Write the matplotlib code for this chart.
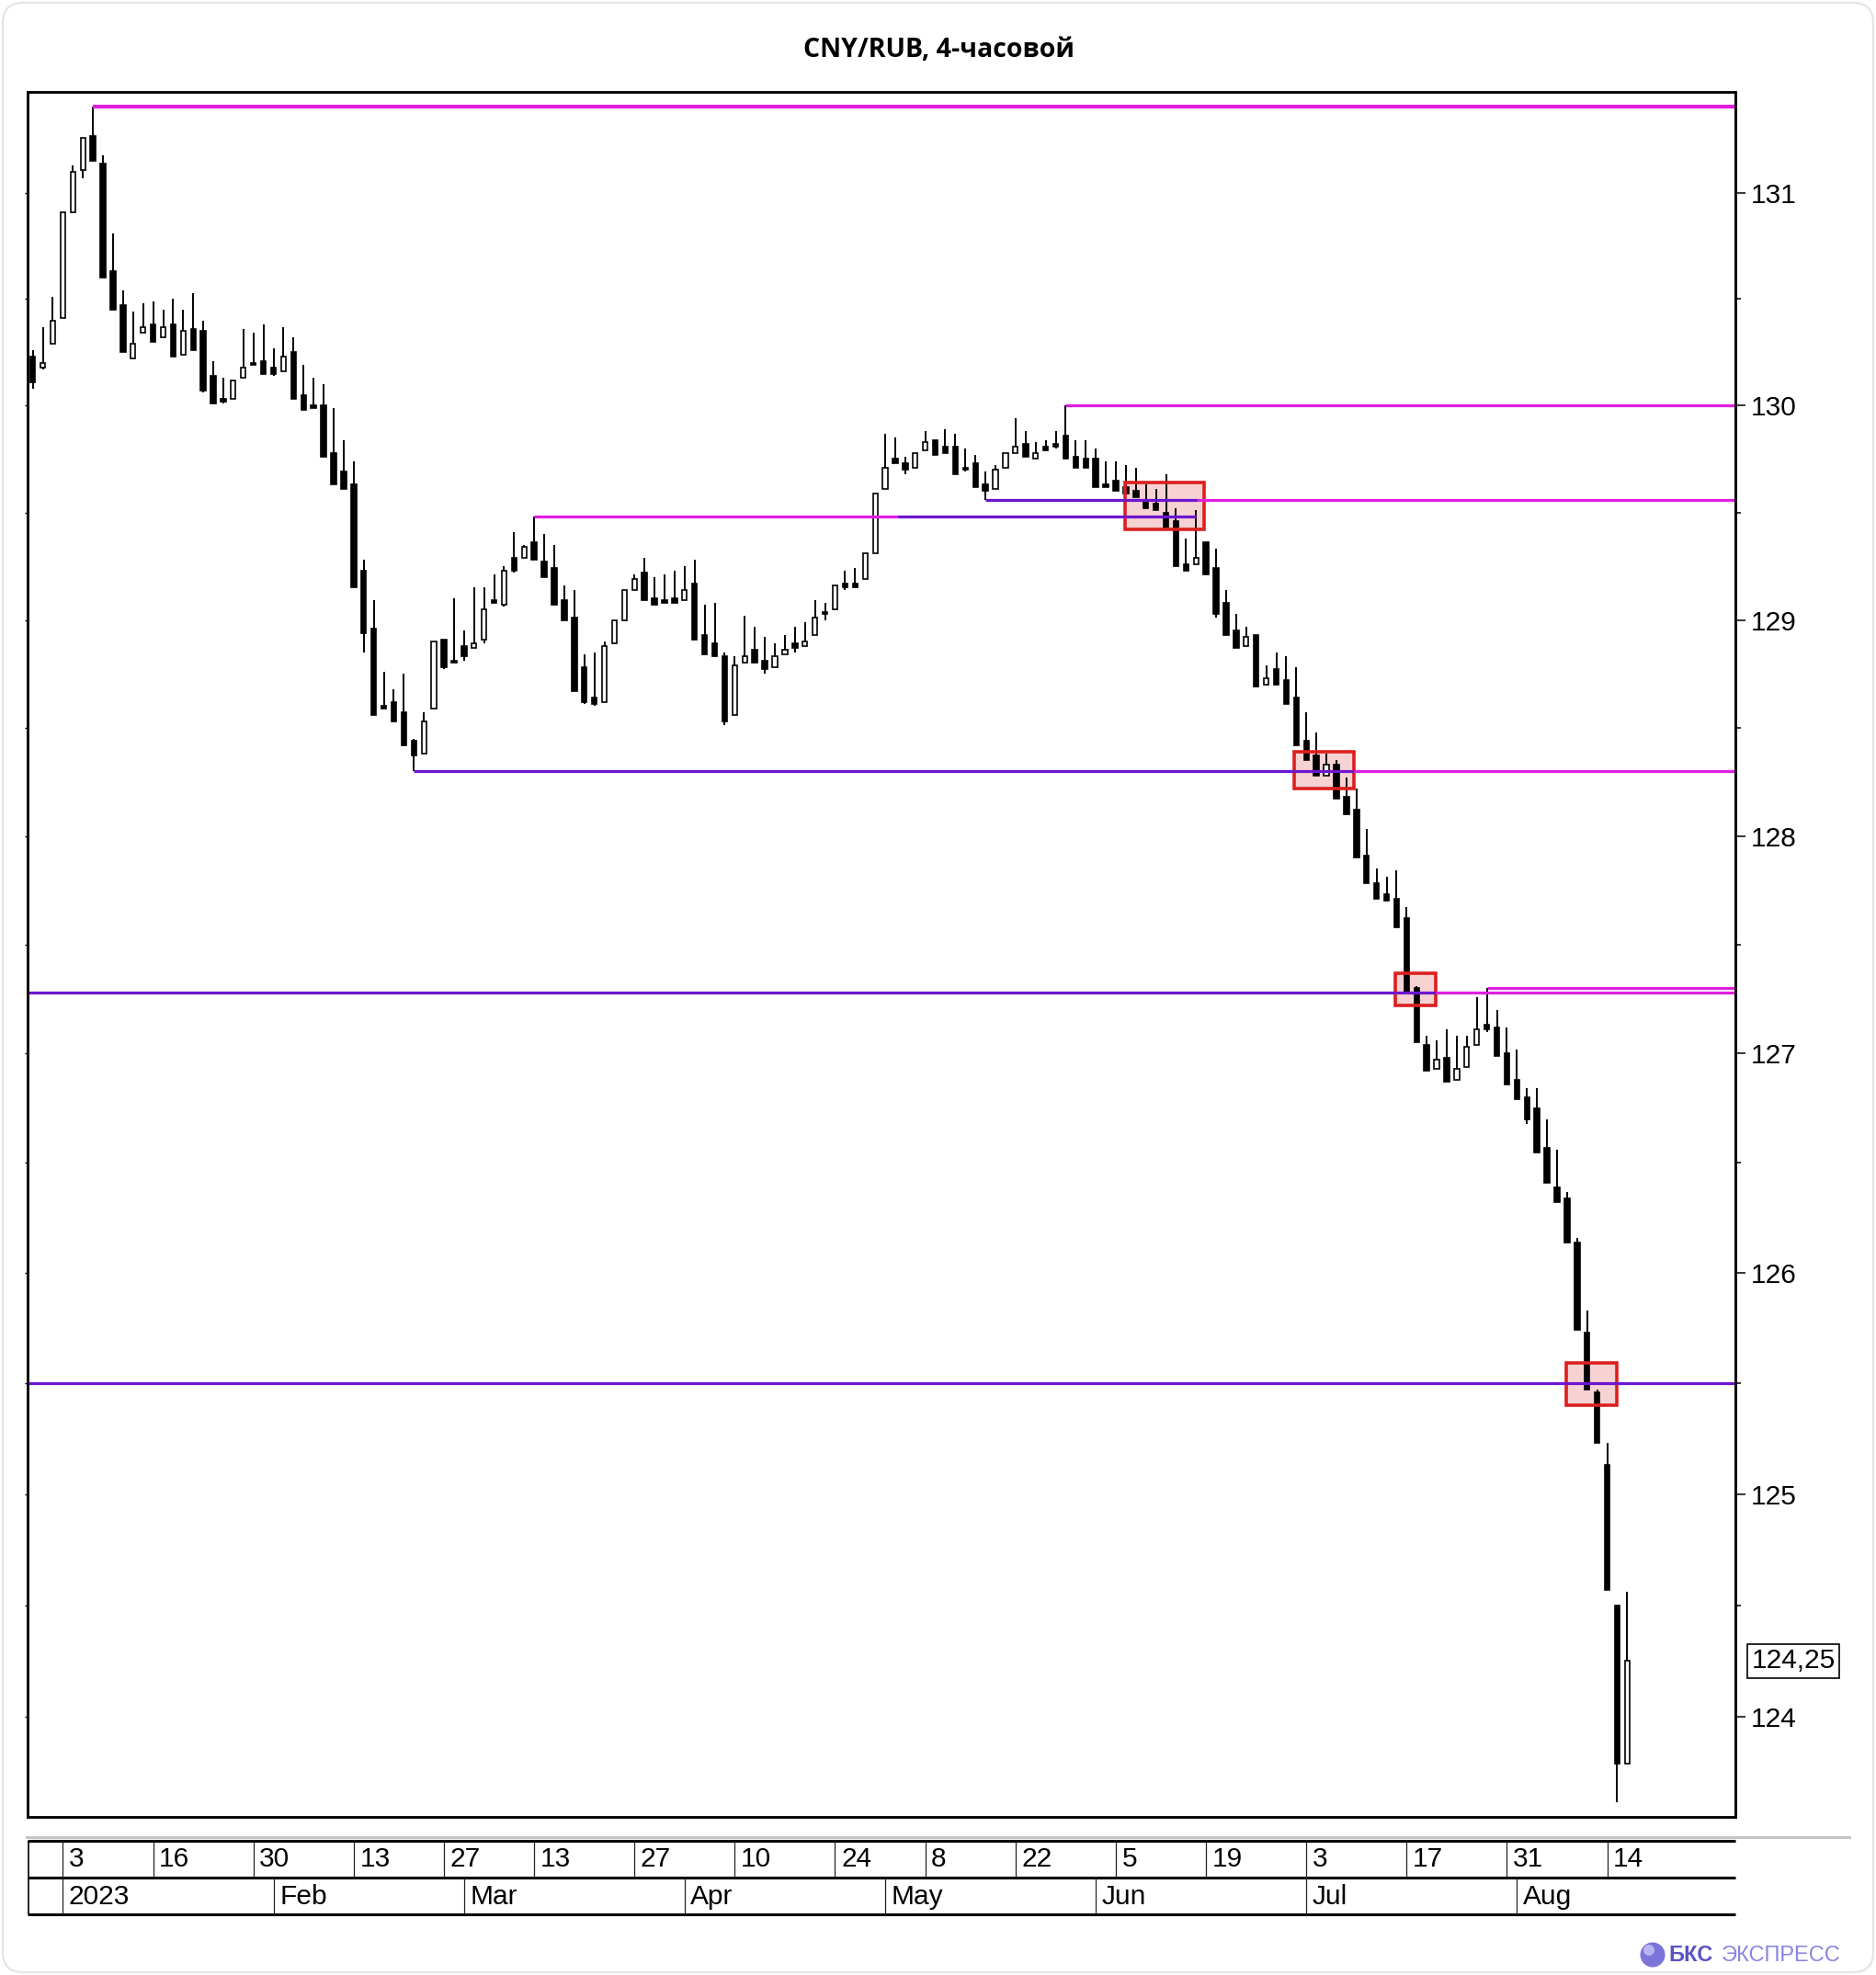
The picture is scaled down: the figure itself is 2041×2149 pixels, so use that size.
import matplotlib
matplotlib.use('Agg')
import matplotlib.pyplot as plt
import matplotlib.transforms as mtransforms
import numpy as np
import pandas as pd
from matplotlib.ticker import FixedLocator, NullFormatter, FuncFormatter
from matplotlib.patches import Rectangle, FancyBboxPatch, Circle

# ---------------- data ----------------
holidays = ['2023-01-02', '2023-02-23', '2023-03-08', '2023-05-01', '2023-05-09', '2023-06-12']
trade_dates = pd.bdate_range('2022-12-28', '2023-08-16')
trade_dates = trade_dates[~trade_dates.isin(pd.to_datetime(holidays))]

opens = [130.23, 130.18, 130.29, 130.41, 130.91, 131.11, 131.27, 131.14, 130.63, 130.47,
         130.22, 130.34, 130.38, 130.32, 130.38, 130.24, 130.36, 130.35, 130.14, 130.03,
         130.03, 130.13, 130.20, 130.21, 130.18, 130.16, 130.25, 130.05, 130.00, 130.00,
         129.78, 129.69, 129.63, 129.23, 128.96, 128.60, 128.62, 128.57, 128.44, 128.38,
         128.59, 128.91, 128.81, 128.88, 128.87, 128.91, 129.09, 129.07, 129.29, 129.29,
         129.36, 129.27, 129.24, 129.09, 129.01, 128.78, 128.64, 128.62, 128.89, 129.00,
         129.14, 129.22, 129.10, 129.09, 129.10, 129.09, 129.17, 128.93, 128.89, 128.83,
         128.56, 128.80, 128.86, 128.81, 128.78, 128.84, 128.89, 128.88, 128.93, 129.035,
         129.05, 129.17, 129.17, 129.19, 129.31, 129.61, 129.75, 129.73, 129.71, 129.79,
         129.84, 129.81, 129.81, 129.71, 129.73, 129.63, 129.61, 129.71, 129.78, 129.82,
         129.75, 129.81, 129.82, 129.86, 129.76, 129.75, 129.75, 129.63, 129.65, 129.62,
         129.60, 129.55, 129.54, 129.50, 129.46, 129.26, 129.26, 129.36, 129.24, 129.08,
         128.95, 128.88, 128.93, 128.70, 128.77, 128.72, 128.64, 128.44, 128.37, 128.28,
         128.33, 128.18, 128.12, 127.91, 127.78, 127.73, 127.71, 127.62, 127.30, 127.04,
         126.93, 126.98, 126.88, 126.94, 127.04, 127.13, 127.12, 127.00, 126.88, 126.80,
         126.75, 126.57, 126.39, 126.34, 126.14, 125.73, 125.46, 125.13, 124.50, 123.79]
highs = [130.26, 130.37, 130.51, 130.91, 131.13, 131.26, 131.41, 131.18, 130.81, 130.54,
         130.44, 130.48, 130.49, 130.45, 130.50, 130.45, 130.53, 130.40, 130.21, 130.13,
         130.12, 130.36, 130.34, 130.38, 130.27, 130.37, 130.32, 130.19, 130.13, 130.10,
         129.99, 129.84, 129.74, 129.28, 129.09, 128.76, 128.68, 128.75, 128.45, 128.57,
         128.90, 128.91, 129.10, 128.95, 129.15, 129.15, 129.21, 129.25, 129.41, 129.35,
         129.48, 129.40, 129.35, 129.16, 129.14, 128.84, 128.85, 128.90, 129.00, 129.14,
         129.21, 129.29, 129.20, 129.21, 129.23, 129.25, 129.28, 129.07, 129.08, 128.85,
         128.83, 129.02, 128.97, 128.92, 128.89, 128.93, 128.97, 128.99, 129.09, 129.08,
         129.16, 129.23, 129.24, 129.31, 129.59, 129.87, 129.85, 129.76, 129.78, 129.88,
         129.84, 129.89, 129.87, 129.80, 129.77, 129.69, 129.72, 129.78, 129.94, 129.88,
         129.83, 129.84, 129.88, 130.00, 129.84, 129.84, 129.80, 129.74, 129.74, 129.72,
         129.71, 129.63, 129.61, 129.68, 129.52, 129.38, 129.51, 129.36, 129.33, 129.14,
         129.03, 128.97, 128.93, 128.79, 128.85, 128.83, 128.78, 128.57, 128.48, 128.38,
         128.35, 128.27, 128.22, 128.03, 127.85, 127.81, 127.84, 127.67, 127.31, 127.08,
         127.06, 127.11, 127.08, 127.08, 127.26, 127.30, 127.20, 127.12, 127.02, 126.84,
         126.84, 126.70, 126.56, 126.37, 126.16, 125.83, 125.47, 125.23, 124.50, 124.56]
lows = [130.08, 130.17, 130.29, 130.41, 130.91, 131.07, 131.15, 130.60, 130.45, 130.25,
        130.22, 130.34, 130.30, 130.32, 130.23, 130.24, 130.26, 130.06, 130.01, 130.01,
        130.03, 130.13, 130.19, 130.15, 130.14, 130.16, 130.03, 129.98, 129.99, 129.76,
        129.63, 129.61, 129.15, 128.85, 128.56, 128.59, 128.53, 128.42, 128.30, 128.38,
        128.59, 128.77, 128.80, 128.81, 128.87, 128.89, 129.08, 129.06, 129.22, 129.29,
        129.28, 129.20, 129.07, 129.00, 128.67, 128.61, 128.60, 128.62, 128.89, 129.00,
        129.14, 129.09, 129.07, 129.08, 129.08, 129.09, 128.91, 128.84, 128.83, 128.51,
        128.56, 128.80, 128.80, 128.75, 128.78, 128.84, 128.85, 128.88, 128.93, 129.00,
        129.05, 129.14, 129.15, 129.19, 129.31, 129.61, 129.73, 129.68, 129.71, 129.79,
        129.77, 129.78, 129.68, 129.69, 129.62, 129.56, 129.61, 129.71, 129.78, 129.76,
        129.75, 129.79, 129.80, 129.75, 129.71, 129.71, 129.62, 129.62, 129.60, 129.59,
        129.57, 129.52, 129.51, 129.43, 129.25, 129.23, 129.26, 129.21, 129.01, 128.93,
        128.87, 128.88, 128.69, 128.70, 128.70, 128.61, 128.42, 128.35, 128.28, 128.28,
        128.17, 128.10, 127.90, 127.78, 127.71, 127.70, 127.58, 127.28, 127.05, 126.92,
        126.93, 126.87, 126.88, 126.94, 127.04, 127.10, 126.99, 126.86, 126.79, 126.68,
        126.55, 126.41, 126.32, 126.14, 125.74, 125.47, 125.23, 124.57, 123.62, 123.79]
closes = [130.11, 130.20, 130.40, 130.91, 131.10, 131.26, 131.15, 130.60, 130.45, 130.25,
          130.29, 130.37, 130.30, 130.37, 130.23, 130.35, 130.26, 130.07, 130.01, 130.02,
          130.12, 130.18, 130.19, 130.15, 130.15, 130.23, 130.03, 129.98, 129.99, 129.76,
          129.63, 129.61, 129.15, 128.94, 128.56, 128.59, 128.53, 128.42, 128.37, 128.53,
          128.90, 128.78, 128.80, 128.83, 128.89, 129.05, 129.08, 129.23, 129.23, 129.34,
          129.28, 129.20, 129.07, 129.00, 128.67, 128.62, 128.61, 128.88, 129.00, 129.14,
          129.19, 129.09, 129.07, 129.08, 129.08, 129.14, 128.91, 128.84, 128.83, 128.53,
          128.79, 128.83, 128.80, 128.77, 128.83, 128.86, 128.87, 128.90, 129.01, 129.03,
          129.16, 129.15, 129.15, 129.31, 129.59, 129.71, 129.73, 129.70, 129.78, 129.83,
          129.77, 129.78, 129.68, 129.70, 129.62, 129.60, 129.70, 129.78, 129.81, 129.76,
          129.78, 129.79, 129.81, 129.75, 129.71, 129.71, 129.62, 129.62, 129.60, 129.59,
          129.57, 129.52, 129.51, 129.43, 129.25, 129.23, 129.29, 129.21, 129.03, 128.93,
          128.87, 128.92, 128.69, 128.73, 128.70, 128.61, 128.42, 128.35, 128.28, 128.33,
          128.17, 128.10, 127.90, 127.78, 127.71, 127.70, 127.58, 127.28, 127.05, 126.92,
          126.97, 126.87, 126.93, 127.03, 127.11, 127.11, 126.99, 126.86, 126.79, 126.70,
          126.55, 126.41, 126.32, 126.14, 125.74, 125.47, 125.23, 124.57, 123.79, 124.25]

last_price = 124.25
last_price_label = '124,25'

# horizontal levels: price, start bar, end bar (None = right edge), kind
level_prices = [131.41, 130.00, 129.56, 129.56, 129.48, 129.48, 128.30, 128.30, 127.28, 127.28, 127.30, 125.50]
level_starts = [6, 103, 95, 116.2, 50, 86.2, 38, 131.7, None, 139.9, 145, None]
level_ends = [None, None, 116.2, None, 86.2, 116.0, 131.7, None, 139.9, None, None, None]
level_kinds = ['res', 'res', 'sup', 'res', 'res', 'sup', 'sup', 'res', 'sup', 'res', 'res', 'sup']

# highlighted breakout boxes (bar range, price range)
box_x0 = [108.9, 125.8, 135.9, 152.9]
box_x1 = [116.8, 131.7, 139.9, 158.0]
box_lo = [129.42, 128.22, 127.22, 125.40]
box_hi = [129.64, 128.39, 127.37, 125.59]

y_ticks = [124, 125, 126, 127, 128, 129, 130, 131]
y_minor = [124.5, 125.5, 126.5, 127.5, 128.5, 129.5, 130.5]

day_tick_dates = ['2023-01-03', '2023-01-16', '2023-01-30', '2023-02-13', '2023-02-27', '2023-03-13',
                  '2023-03-27', '2023-04-10', '2023-04-24', '2023-05-08', '2023-05-22', '2023-06-05',
                  '2023-06-19', '2023-07-03', '2023-07-17', '2023-07-31', '2023-08-14']
month_tick_dates = ['2023-01-03', '2023-02-01', '2023-03-01', '2023-04-03', '2023-05-02',
                    '2023-06-01', '2023-07-03', '2023-08-01']
month_labels = ['2023', 'Feb', 'Mar', 'Apr', 'May', 'Jun', 'Jul', 'Aug']

title = 'CNY/RUB, 4-часовой'

# ---------------- figure ----------------
W, H = 2041, 2149
fig = plt.figure(figsize=(W / 100, H / 100), dpi=100)
fig.patch.set_facecolor('white')

# background overlay in pixel coords
bg = fig.add_axes([0, 0, 1, 1], zorder=-5)
bg.set_xlim(0, W)
bg.set_ylim(H, 0)
bg.axis('off')
bg.add_patch(FancyBboxPatch((3, 3), W - 6, H - 6, boxstyle='round,pad=0,rounding_size=22',
                            fc='white', ec='#e4e4e4', lw=1.6))

MAG = '#e01ee0'
PUR = '#6c16cf'

ax_l, ax_r, ax_t, ax_b = 30, 1888, 100, 1977
ax = fig.add_axes([ax_l / W, 1 - ax_b / H, (ax_r - ax_l) / W, (ax_b - ax_t) / H])
n = len(opens)
x = np.arange(n)
xlim = (-0.52, 169.78)
ylim = (123.554, 131.478)
ax.set_xlim(*xlim)
ax.set_yscale('log')
ax.set_ylim(*ylim)

o = np.array(opens); h = np.array(highs); l = np.array(lows); c = np.array(closes)
up = c >= o
ax.vlines(x, l, h, color='black', lw=1.4, zorder=3)
bottoms = np.minimum(o, c)
heights = np.abs(c - o)
ax.bar(x[up], heights[up], bottom=bottoms[up], width=0.48, color='white', edgecolor='black',
       lw=1.2, zorder=4)
ax.bar(x[~up], heights[~up], bottom=bottoms[~up], width=0.5, color='black', edgecolor='black',
       lw=1.2, zorder=4)

for bx0, bx1, blo, bhi in zip(box_x0, box_x1, box_lo, box_hi):
    ax.add_patch(Rectangle((bx0, blo), bx1 - bx0, bhi - blo, fc='#f7d2d2', ec='none', zorder=1))
    ax.add_patch(Rectangle((bx0, blo), bx1 - bx0, bhi - blo, fc='none', ec='#dc1f1f', lw=2.6, zorder=5))

for i, (p, s, e, k) in enumerate(zip(level_prices, level_starts, level_ends, level_kinds)):
    s = xlim[0] if s is None else s
    e = xlim[1] if e is None else e
    lw = 3.0 if i == 0 else 2.3
    ax.hlines(p, s, e, color=MAG if k == 'res' else PUR, lw=lw, zorder=6)

for sp in ax.spines.values():
    sp.set_linewidth(1.8)
    sp.set_color('black')

ax.yaxis.set_major_locator(FixedLocator(y_ticks))
ax.yaxis.set_minor_locator(FixedLocator(y_minor))
ax.yaxis.set_major_formatter(NullFormatter())
ax.yaxis.set_minor_formatter(NullFormatter())
ax.tick_params(axis='y', which='both', left=True, right=False, labelleft=False,
               length=2.5, width=1.0, direction='out')
ax.tick_params(axis='x', which='both', bottom=False, labelbottom=False, top=False)

ax2 = ax.twinx()
ax2.set_yscale('log')
ax2.set_ylim(*ylim)
ax2.yaxis.set_major_locator(FixedLocator(y_ticks))
ax2.yaxis.set_minor_locator(FixedLocator(y_minor))
ax2.yaxis.set_major_formatter(FuncFormatter(lambda v, p: f'{v:.0f}'))
ax2.yaxis.set_minor_formatter(NullFormatter())
ax2.tick_params(axis='y', which='major', length=8, width=1.1, pad=4, labelsize=21.5,
                labelfontfamily='Liberation Sans', colors='black')
ax2.tick_params(axis='y', which='minor', length=4.5, width=1.1)
for sp in ax2.spines.values():
    sp.set_linewidth(1.8)

trans = mtransforms.blended_transform_factory(ax2.transAxes, ax2.transData)
ax2.text(1.0095, last_price, last_price_label, transform=trans, ha='left', va='center',
         fontsize=21.5, family='Liberation Sans',
         bbox=dict(boxstyle='square,pad=0.15', fc='white', ec='black', lw=1.2))

# title
fig.text(1021 / W, 1 - 54 / H, title, ha='center', va='center', fontsize=20.5,
         fontweight='bold', family=['Open Sans', 'DejaVu Sans'])

# ---------------- date panel ----------------
bg.plot([29, 2012], [1999, 1999], color='#c4c4c4', lw=2.2)
dax = fig.add_axes([ax_l / W, 1 - 2083 / H, (ax_r - ax_l) / W, (2083 - 2003) / H])
dax.set_xlim(*xlim)
dax.set_ylim(0, 2)
dax.axis('off')
dax.hlines([0, 1, 2], xlim[0], xlim[1], color='black', lw=2.2, clip_on=False)
dax.vlines([xlim[0] + 0.05], 0, 2, color='black', lw=1.2)
day_idx = [trade_dates.get_loc(pd.Timestamp(d)) for d in day_tick_dates]
mon_idx = [trade_dates.get_loc(pd.Timestamp(d)) for d in month_tick_dates]
dax.vlines(day_idx, 1, 2, color='#222222', lw=0.9)
dax.vlines(mon_idx, 0, 1, color='#222222', lw=0.9)
for di, dd in zip(day_idx, day_tick_dates):
    dax.text(di + 0.6, 1.5, str(pd.Timestamp(dd).day), ha='left', va='center',
             fontsize=21.5, family='Liberation Sans')
for mi, ml in zip(mon_idx, month_labels):
    dax.text(mi + 0.6, 0.47, ml, ha='left', va='center', fontsize=21.5, family='Liberation Sans')

# ---------------- logo ----------------
bg.add_patch(Circle((1798, 2127), 13.5, fc='#7d74da', ec='none'))
bg.add_patch(Circle((1794, 2122), 6, fc='#b9b4f0', ec='none'))
bg.text(1815, 2128, 'БКС', ha='left', va='center', fontsize=17, fontweight='bold',
        color='#5a52c4', family='Liberation Sans')
bg.text(1873, 2128, 'ЭКСПРЕСС', ha='left', va='center', fontsize=17,
        color='#8a84e0', family='Liberation Sans')

fig.savefig('out.png', dpi=100, facecolor='white')
